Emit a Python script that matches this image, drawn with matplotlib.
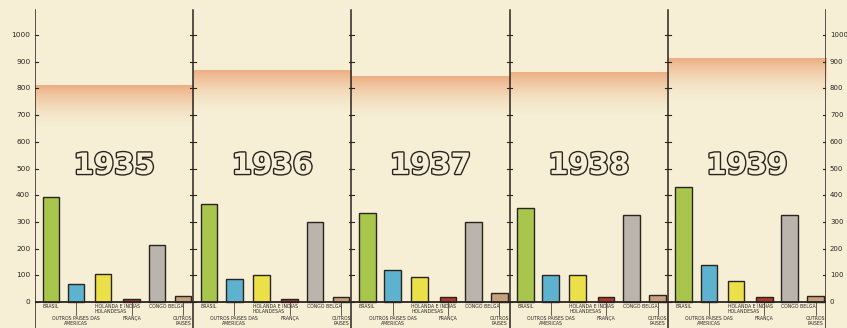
import matplotlib.pyplot as plt
import matplotlib.patheffects as pe
import numpy as np

years = ["1935", "1936", "1937", "1938", "1939"]
categories = ["BRASIL", "OUTROS PAISES DAS\nAMERICAS", "HOLANDA E INDIAS\nHOLANDESAS",
              "FRANÇA", "CONGO BELGA", "OUTROS\nPAISES"]
brasil = [395, 367, 333, 352, 430]
outros_americas = [66, 86, 120, 103, 138]
holanda = [107, 100, 95, 100, 78]
franca = [12, 12, 20, 18, 18]
congo_belga = [215, 300, 298, 325, 325]
outros_paises = [22, 20, 35, 28, 22]
totals = [810, 865, 845, 860, 910]
yticks = list(range(0, 1001, 100))

colors = ["#a9c64c", "#5db3cf", "#ece04a", "#b3372a", "#bab4ad", "#c9a07e"]
bg = "#f6efd5"
ink = "#2a2420"

offsets = [0.10, 0.26, 0.43, 0.61, 0.77, 0.935]
bar_w = 0.105

fig = plt.figure(figsize=(8.47, 3.28), dpi=100, facecolor=bg)
ax = fig.add_axes([35 / 847, 0, (826 - 35) / 847, 1])
ax.set_facecolor(bg)
ax.set_xlim(0, 5)
ax.set_ylim(-97, 1131)
ax.axis("off")

series = [brasil, outros_americas, holanda, franca, congo_belga, outros_paises]

# orange band marking the total of each year
fade = np.linspace(0, 1, 100).reshape(-1, 1)
for i, tot in enumerate(totals):
    rgba = np.zeros((100, 1, 4))
    rgba[..., 0] = 0.91
    rgba[..., 1] = 0.58
    rgba[..., 2] = 0.38
    rgba[..., 3] = 0.7 * fade ** 1.8
    ax.imshow(rgba, extent=[i, i + 1, tot - 170, tot], origin="lower",
              aspect="auto", interpolation="bilinear", zorder=1)

for i, year in enumerate(years):
    for k, vals in enumerate(series):
        ax.bar(i + offsets[k], vals[i], width=bar_w, color=colors[k],
               edgecolor=ink, linewidth=1.0, zorder=3)
    ax.text(i + 0.5, 510, year, ha="center", va="center", fontsize=21,
            fontweight="bold", color=bg, zorder=4,
            path_effects=[pe.withStroke(linewidth=2.0, foreground=ink)])
    # category labels, alternating rows
    for k, lab in enumerate(categories):
        x = i + offsets[k] - bar_w / 2
        if k % 2 == 0:
            ax.text(x, -8, lab, ha="left", va="top", fontsize=3.3, color=ink,
                    zorder=4, linespacing=0.9)
        else:
            xc = i + offsets[k]
            ax.plot([xc, xc], [0, -50], color=ink, lw=0.5, zorder=2)
            ax.text(xc, -52, lab, ha="center", va="top", fontsize=3.3,
                    color=ink, zorder=4, linespacing=0.9)

# vertical dividers with tick marks
for d in range(6):
    ax.plot([d, d], [-97, 1095], color=ink, lw=1.1, zorder=5)
    for t in yticks:
        ax.plot([d - 0.018, d + 0.018], [t, t], color=ink, lw=0.8, zorder=5)

for t in yticks:
    ax.text(-0.03, t, str(t), ha="right", va="center", fontsize=5.3, color=ink)
    ax.text(5.025, t, str(t), ha="left", va="center", fontsize=5.0, color=ink)

ax.plot([-0.02, 5.02], [0, 0], color=ink, lw=1.3, zorder=5)

fig.savefig("out.png", dpi=100, facecolor=bg)
